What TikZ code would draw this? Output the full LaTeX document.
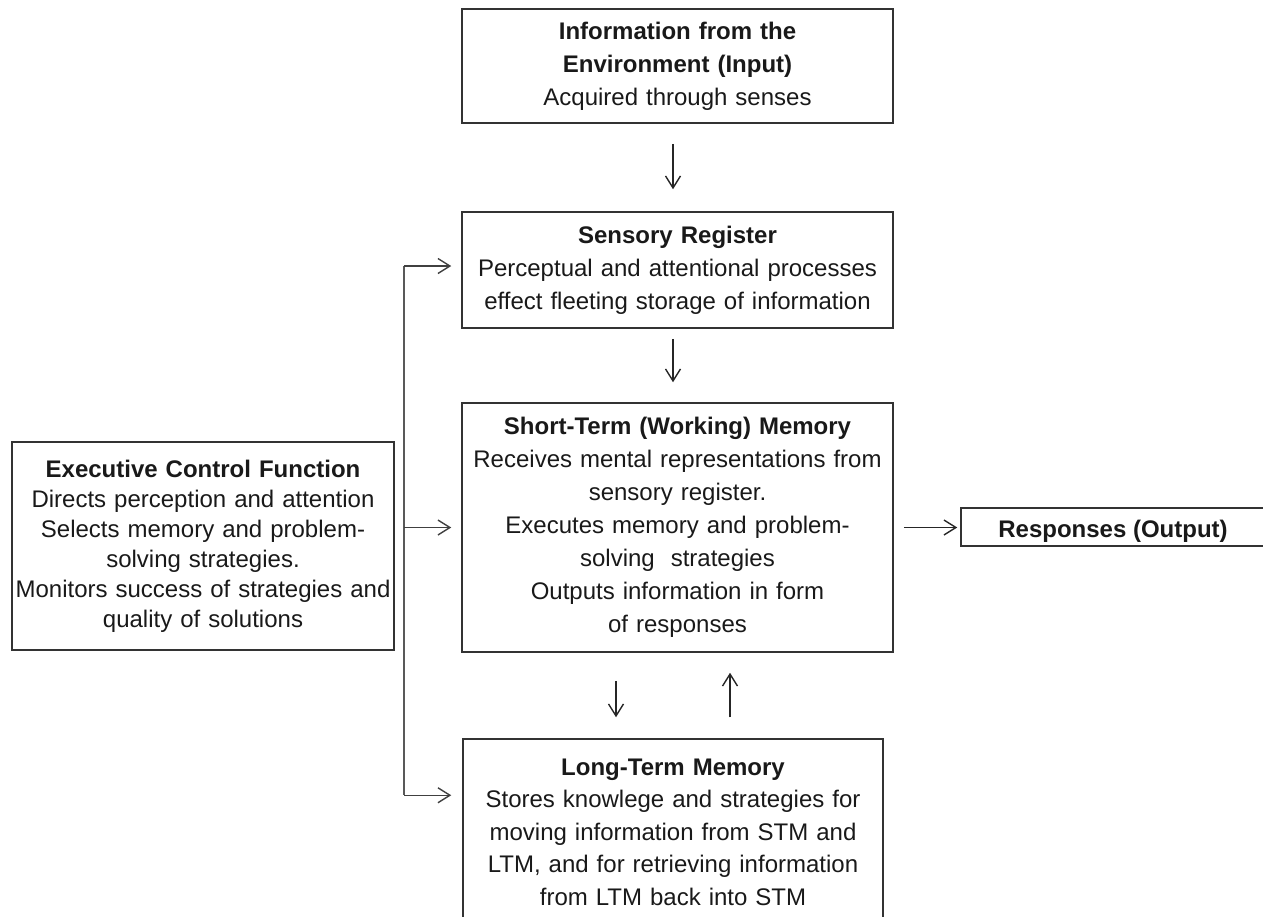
\documentclass[tikz,border=0pt]{standalone}
\usepackage{fontspec}
\setmainfont{Liberation Sans}
\usetikzlibrary{positioning, calc, arrows.meta}

\tikzset{
    box/.style={draw=black!80, line width=0.75pt, inner sep=1pt, align=center,
        text=black!90, font=\fontsize{12}{16.5}\selectfont},
    arr/.style={-{Straight Barb[length=6pt,width=7.5pt,line width=0.7pt]}, line width=0.55pt, draw=black!85},
    busline/.style={line width=0.6pt, draw=black!65},
}

\begin{document}
\begin{tikzpicture}[x=0.5pt, y=-0.5pt]
    \useasboundingbox (0,0) rectangle (1263,916);
    \clip (0,0) rectangle (1263,916);

    % Memory stores
    \node[box, minimum width=215.5pt, minimum height=57pt, text width=210pt] (in) at (677.5,66)
        {\textbf{Information from the}\\ \textbf{Environment (Input)}\\ Acquired through senses};
    \node[box, minimum width=215.5pt, minimum height=58pt, text width=210pt] (sens) at (677.5,270)
        {\textbf{Sensory Register}\\ Perceptual and attentional processes\\ effect fleeting storage of information};
    \node[box, minimum width=215.5pt, minimum height=124.5pt, text width=210pt] (stm) at (677.5,527.5)
        {\textbf{Short-Term (Working) Memory}\\ Receives mental representations from\\ sensory register.\\
         Executes memory and problem-\\ solving\ \ strategies\\ Outputs information in form\\ of responses};
    \node[box, minimum width=210pt, minimum height=93pt, text width=205pt,
        font=\fontsize{12}{16.25}\selectfont] (ltm) at (673,832)
        {\textbf{Long-Term Memory}\\ Stores knowlege and strategies for\\ moving information from STM and\\
         LTM, and for retrieving information\\ from LTM back into STM};

    % Control and output
    \node[box, minimum width=191pt, minimum height=104pt, text width=189pt,
        font=\fontsize{12}{15}\selectfont] (exec) at (203,546)
        {\textbf{Executive Control Function}\\ Directs perception and attention\\ Selects memory and problem-\\
         solving strategies.\\ Monitors success of strategies and\\ quality of solutions};
    \node[box, minimum width=152pt, minimum height=19pt] (resp) at (1113,527)
        {\raisebox{-2.3pt}[\height][\depth]{\textbf{Responses (Output)}}};

    % Flow between stores
    \draw[arr, shorten <=10pt, shorten >=11pt] ([xshift=-2.25pt]in.south) -- ([xshift=-2.25pt]sens.north);
    \draw[arr, shorten <=5pt, shorten >=10pt] ([xshift=-2.25pt]sens.south) -- ([xshift=-2.25pt]stm.north);
    \draw[arr, shorten <=14pt, shorten >=10.5pt] ([xshift=-30.75pt]stm.south) -- ([xshift=-28.5pt]ltm.north);
    \draw[arr, shorten <=10.5pt, shorten >=10pt] ([xshift=28.5pt]ltm.north) -- ([xshift=26.25pt]stm.south);
    \draw[arr, shorten <=5pt, shorten >=1.5pt] (stm.east) -- (stm.east -| resp.west);

    % Executive control reaching the stores
    \coordinate (bus) at (404,0);
    \coordinate (tapS) at ([yshift=2pt]sens.west);
    \coordinate (tapL) at ([yshift=-28.5pt]ltm.north west);
    \draw[busline] (tapS -| bus) -- (tapL -| bus);
    \draw[arr, draw=black!75, shorten >=5pt] (tapS -| bus) -- (tapS);
    \draw[arr, draw=black!75, shorten >=5pt] (stm.west -| bus) -- (stm.west);
    \draw[arr, draw=black!75, shorten >=5.5pt] (tapL -| bus) -- (tapL);
\end{tikzpicture}
\end{document}
